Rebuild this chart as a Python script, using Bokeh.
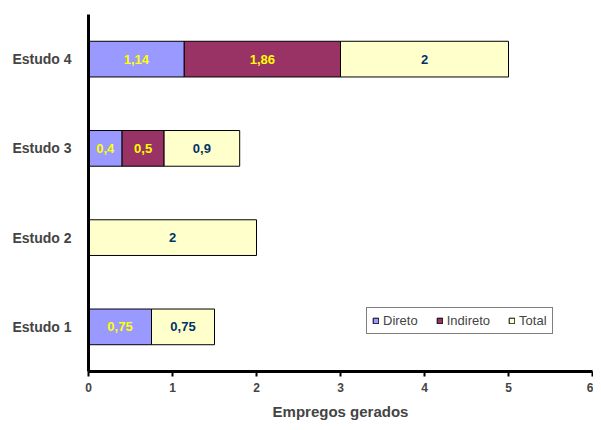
from bokeh.plotting import figure
from bokeh.models import ColumnDataSource, FactorRange, Range1d, FixedTicker, Legend
from bokeh.core.properties import value
from bokeh.embed import file_html
from bokeh.resources import INLINE

categories = ["Estudo 1", "Estudo 2", "Estudo 3", "Estudo 4"]
direto = [0.75, 0.0, 0.4, 1.14]
indireto = [0.0, 0.0, 0.5, 1.86]
total = [0.75, 2.0, 0.9, 2.0]
series = ["Direto", "Indireto", "Total"]
colors = ["#9999FF", "#993366", "#FFFFCC"]
label_colors = ["#FFFF00", "#FFFF00", "#003366"]
x_ticks = [0, 1, 2, 3, 4, 5, 6]

FONT = "Liberation Sans"

source = ColumnDataSource(dict(cat=categories, Direto=direto, Indireto=indireto, Total=total))

p = figure(width=593, height=422, y_range=FactorRange(factors=categories),
           x_range=Range1d(0, 6), output_backend="svg", toolbar_location=None,
           min_border_left=88, min_border_right=1, min_border_top=14, min_border_bottom=51)
p.outline_line_color = None
p.background_fill_color = "white"
p.border_fill_color = "white"

renderers = p.hbar_stack(series, y="cat", height=0.4, color=colors, source=source,
                         line_color="black", line_width=1)

# value labels
lx, ly, lt, lc = [], [], [], []
for i, c in enumerate(categories):
    start = 0.0
    for vals, col in zip([direto, indireto, total], label_colors):
        v = vals[i]
        if v > 0:
            lx.append(start + v / 2)
            ly.append(c)
            lt.append(("%g" % v).replace(".", ","))
            lc.append(col)
        start += v
p.text(x=lx, y=ly, text=lt, text_color=lc, text_align="center", text_baseline="middle",
       text_font=value(FONT), text_font_style="bold", text_font_size="13px")

p.xgrid.visible = False
p.ygrid.visible = False

xa = p.xaxis[0]
xa.ticker = FixedTicker(ticks=x_ticks)
xa.axis_line_width = 3
xa.axis_line_color = "black"
xa.major_tick_line_width = 2
xa.major_tick_out = 5
xa.major_tick_in = 0
xa.minor_tick_line_color = None
xa.major_label_text_font = FONT
xa.major_label_text_font_style = "bold"
xa.major_label_text_font_size = "12px"
xa.major_label_standoff = 6
xa.axis_label = "Empregos gerados"
xa.axis_label_text_font = FONT
xa.axis_label_text_font_style = "bold"
xa.axis_label_text_font_size = "15px"
xa.axis_label_standoff = 8

ya = p.yaxis[0]
ya.axis_line_width = 3
ya.axis_line_color = "black"
ya.major_tick_line_color = None
ya.minor_tick_line_color = None
ya.major_label_text_font = FONT
ya.major_label_text_font_style = "bold"
ya.major_label_text_font_size = "14px"
ya.major_label_standoff = 11

legend = Legend(items=[(s, [r]) for s, r in zip(series, renderers)],
                orientation="horizontal", location=(278, 37),
                glyph_width=7, glyph_height=7, label_text_font=FONT,
                label_text_font_size="13px", label_standoff=4, spacing=18,
                padding=5, margin=0, border_line_color="black", border_line_width=1,
                label_height=7, label_text_baseline="middle")
p.add_layout(legend, "center")

open("out.html", "w").write(file_html(p, INLINE))
